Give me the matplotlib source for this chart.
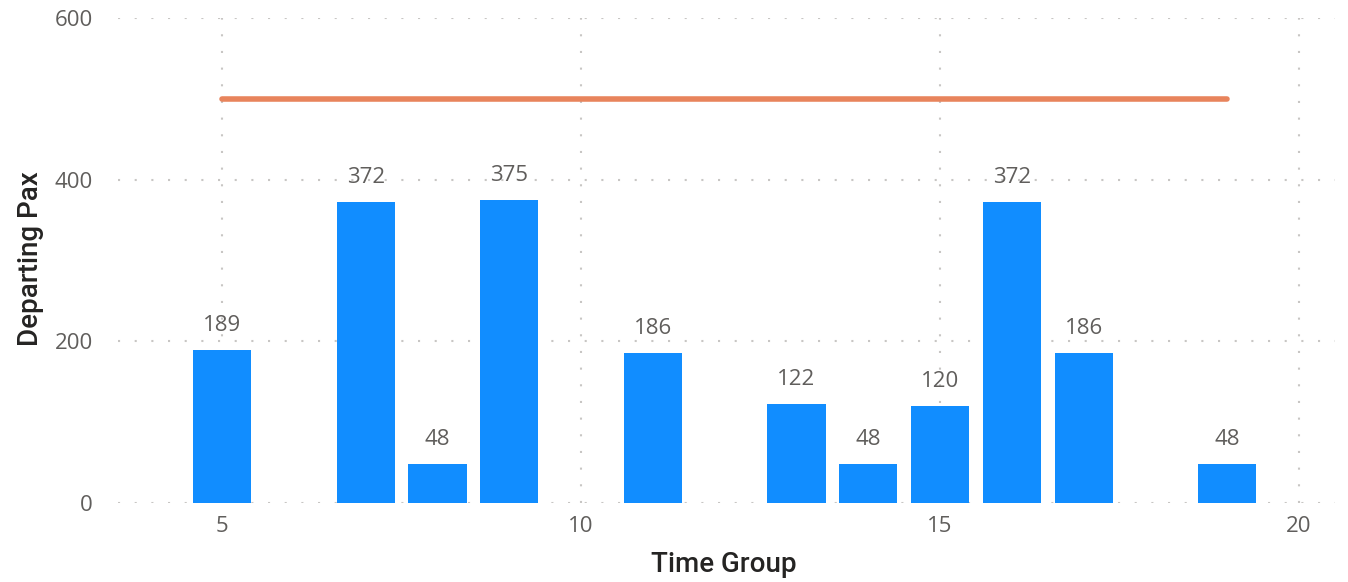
import matplotlib
matplotlib.use("Agg")
import matplotlib.pyplot as plt

time_group = [5, 7, 8, 9, 11, 13, 14, 15, 16, 17, 19]
departing_pax = [189, 372, 48, 375, 186, 122, 48, 120, 372, 186, 48]
target_x = [5, 19]
target_y = [500, 500]

plt.rcParams['font.family'] = ['Open Sans', 'DejaVu Sans']

fig = plt.figure(figsize=(13.48, 5.82), dpi=100)
ax = fig.add_axes([118/1348, 79/582, 1217/1348, 485/582])

ax.bar(time_group, departing_pax, width=0.81, color='#118DFF', zorder=2)
ax.plot(target_x, target_y, color='#E8845C', lw=4, solid_capstyle='round', zorder=3)

for x, v in zip(time_group, departing_pax):
    ax.annotate(str(v), (x, v), xytext=(0, 10), textcoords='offset points',
                ha='center', va='bottom', fontsize=16, color='#605E5C')

ax.set_xlim(3.55, 20.5)
ax.set_ylim(0, 600)
ax.set_xticks([5, 10, 15, 20])
ax.set_yticks([0, 200, 400, 600])
ax.grid(True, color='#C8C6C4', linestyle=(0, (1, 7)), linewidth=1.5, zorder=0)
ax.set_axisbelow(True)
for s in ax.spines.values():
    s.set_visible(False)
ax.tick_params(length=0, labelsize=16, labelcolor='#605E5C')
ax.tick_params(axis='x', pad=9)
ax.tick_params(axis='y', pad=18)

ax.set_xlabel('Time Group', fontsize=20, fontweight='medium', color='#252423',
              family=['Roboto', 'DejaVu Sans'], va='center')
ax.set_ylabel('Departing Pax', fontsize=20, fontweight='medium', color='#252423',
              family=['Roboto', 'DejaVu Sans'], va='center')
ax.xaxis.set_label_coords((724 - 118) / 1217, -(565 - 503) / 485)
ax.yaxis.set_label_coords(-(118 - 31) / 1217, (503 - 259) / 485)

plt.savefig('out.png', dpi=100)
